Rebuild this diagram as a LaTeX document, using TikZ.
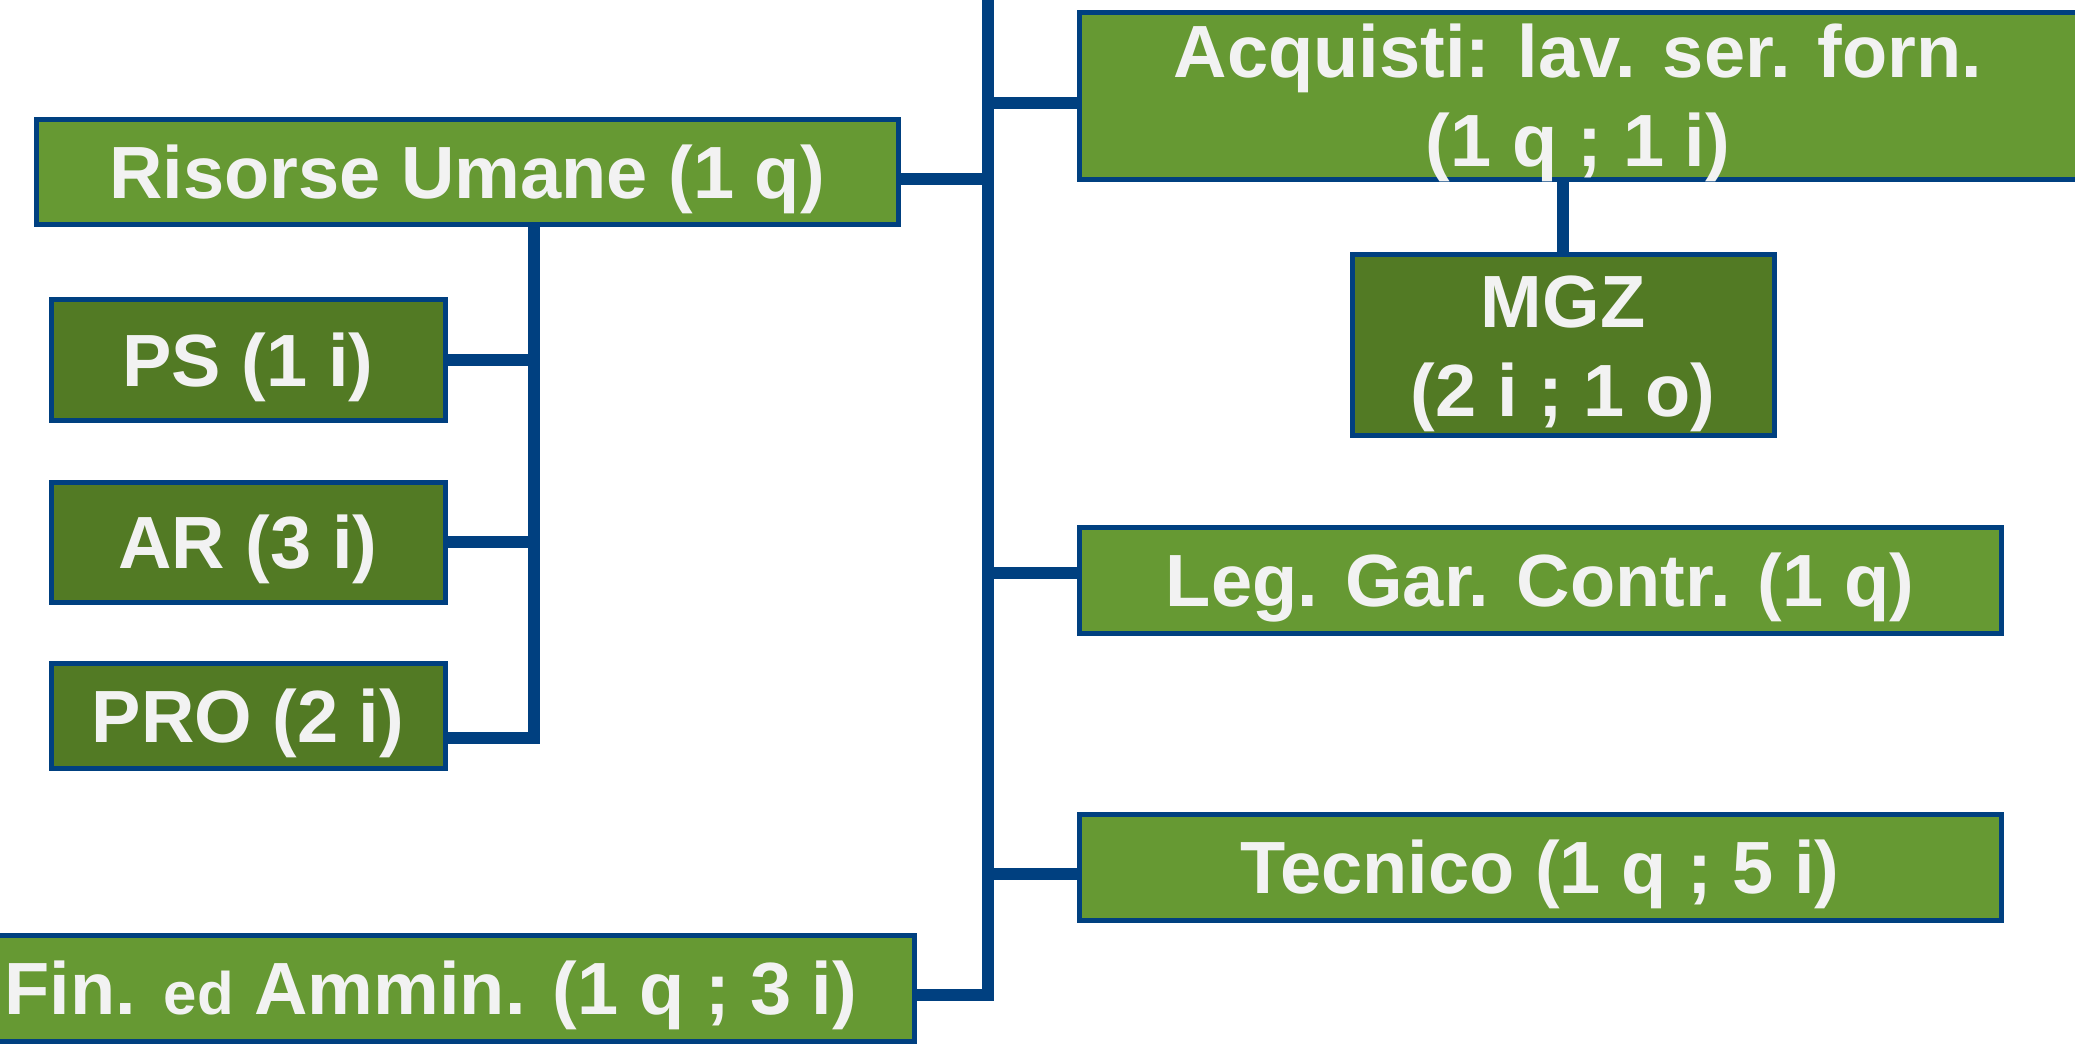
\documentclass[tikz,border=0pt]{standalone}
\usepackage{fontspec}
\setmainfont{Liberation Sans}
\usetikzlibrary{positioning}
\definecolor{boxgreen}{HTML}{669933}
\definecolor{boxdark}{HTML}{527A24}
\definecolor{linkblue}{HTML}{004080}
\definecolor{boxtext}{HTML}{F2F2F2}
\tikzstyle{link} = [draw=linkblue, line width=6pt]
\tikzstyle{unit} = [draw=linkblue, line width=2.5pt, fill=boxgreen, text=boxtext, rectangle, align=center, inner sep=0pt, text height=26.5pt, text depth=0pt, font=\fontsize{37}{44.5}\selectfont\bfseries]
\tikzstyle{subunit} = [unit, fill=boxdark]
\tikzstyle{twolines} = [text height=71pt, text depth=0pt]
\begin{document}
\begin{tikzpicture}[x=0.5pt, y=-0.5pt]
        \useasboundingbox (0,0) rectangle (2075,1053);
        % left side
        \node[unit, minimum width=431pt, minimum height=52.5pt] (ru) at (467,172) {Risorse Umane (1 q)};
        \node[subunit, minimum width=197pt, minimum height=60pt] (ps) at (248,360) {PS (1 i)};
        \node[subunit, minimum width=197pt, minimum height=60pt, below of=ps, node distance=91pt] (ar) {AR (3 i)};
        \node[subunit, minimum width=197pt, minimum height=52.5pt, below of=ar, node distance=86.75pt] (pro) {PRO (2 i)};
        \node[unit, minimum width=483pt, minimum height=53pt] (fin) at (431,988) {Fin. {\fontsize{30}{36}\selectfont ed} Ammin. (1 q ; 3 i)};
        % right side
        \node[unit, twolines, minimum width=499pt, minimum height=83.5pt] (acq) at (1578,96) {Acquisti: lav. ser. forn.\\(1 q ; 1 i)};
        \node[subunit, twolines, minimum width=211pt, minimum height=90pt, below of=acq, node distance=124.5pt, xshift=-7.5pt] (mgz) {MGZ\\(2 i ; 1 o)};
        \node[unit, minimum width=461pt, minimum height=53pt, below of=acq, node distance=242pt, xshift=-19pt] (leg) {Leg. Gar. Contr. (1 q)};
        \node[unit, minimum width=461pt, minimum height=53pt, below of=leg, node distance=143.5pt] (tec) {Tecnico (1 q ; 5 i)};
        \coordinate (top) at (988,-20);
        \coordinate (rux) at (534,225);
        % connectors
        \path[link] (top) |- ([yshift=-3.5pt]fin.east);
        \path[link] ([yshift=-3.5pt]ru.east) -- ([yshift=-3.5pt]ru.east -| top);
        \path[link] ([yshift=-3.75pt]acq.west) -- ([yshift=-3.75pt]acq.west -| top);
        \path[link] ([yshift=3.75pt]leg.west) -- ([yshift=3.75pt]leg.west -| top);
        \path[link] ([yshift=-3.5pt]tec.west) -- ([yshift=-3.5pt]tec.west -| top);
        \path[link] (acq.south -| mgz.north) -- (mgz.north);
        \path[link] (rux) |- ([yshift=-11pt]pro.east);
        \path[link] (ps.east) -- (ps.east -| rux);
        \path[link] (ar.east) -- (ar.east -| rux);
    \end{tikzpicture}
\end{document}
